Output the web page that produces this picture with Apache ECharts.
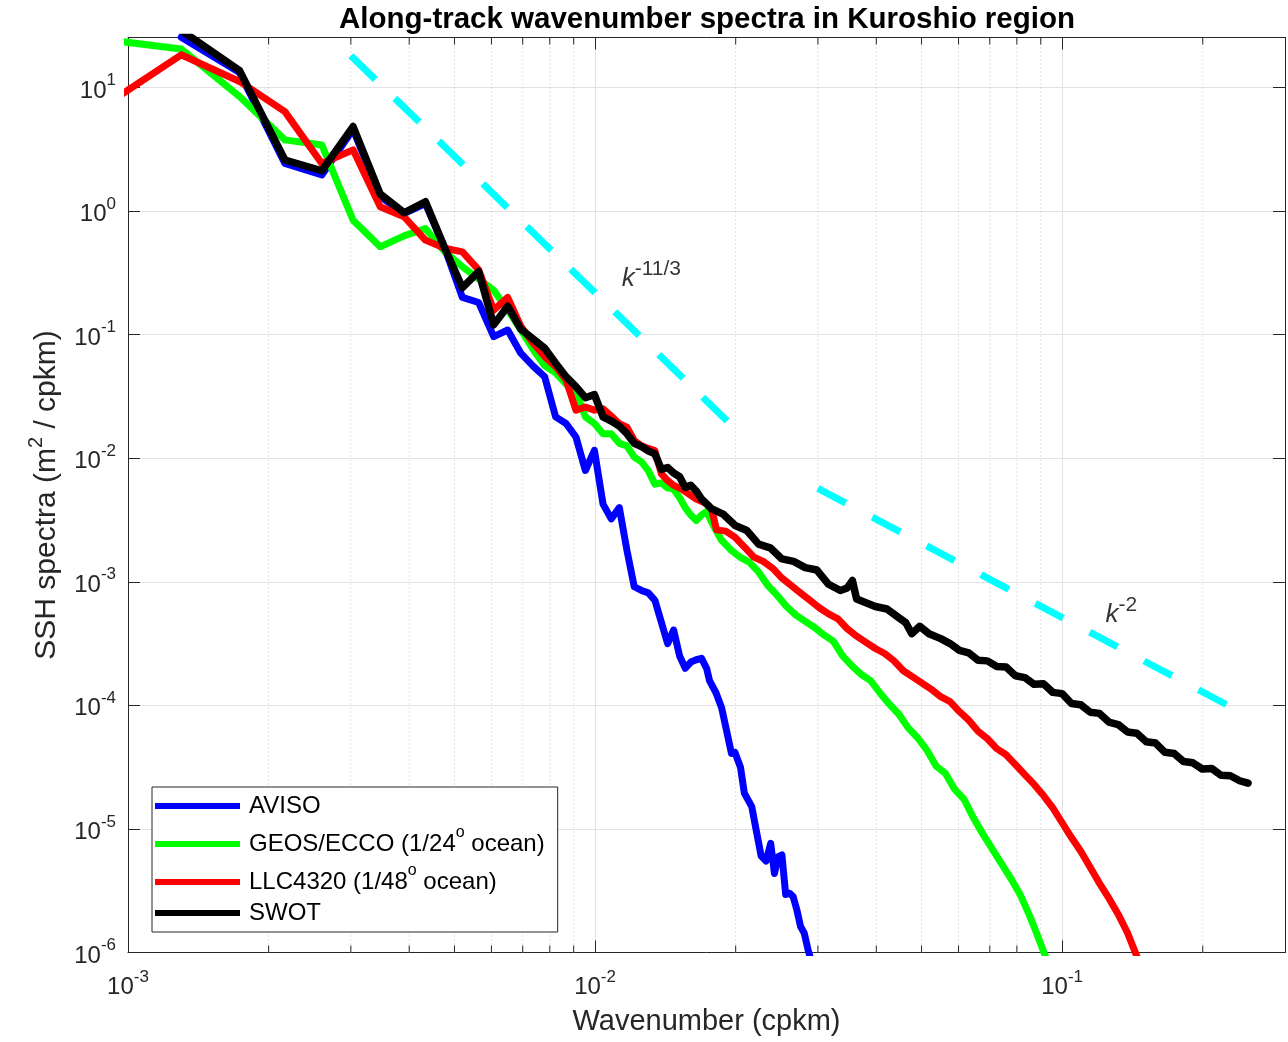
<!DOCTYPE html>
<html><head><meta charset="utf-8">
<script src="https://cdn.jsdelivr.net/npm/echarts@6/dist/echarts.min.js"></script>
<style>html,body{margin:0;padding:0;background:#fff}#c{width:1288px;height:1042px}</style>
</head><body><div id="c"></div>
<script>
const FONT = '"Liberation Sans", Arial, Helvetica, sans-serif';
const X_MIN = 0.001, X_MAX = 0.3, Y_MIN = 1e-6, Y_MAX = 25.4;

// ---- data ----
const avisoK = [0.0013,0.001733,0.002167,0.0026,0.003033,0.003467,0.0039,0.004333,0.004767,0.0052,0.005633,0.006067,0.0065,0.006933,0.007367,0.0078,0.008233,0.008667,0.0091,0.009533,0.009967,0.0104,0.01083,0.01127,0.0117,0.01213,0.01257,0.013,0.01343,0.01387,0.0143,0.01473,0.01517,0.0156,0.01603,0.01647,0.0169,0.01733,
  0.01758,0.01816,0.01866,0.01916,0.01959,0.01992,0.02048,0.02087,0.02165,0.02205,0.02268,0.02323,0.02377,0.02421,0.02466,0.02512,0.02559,0.02606,0.02655,0.02704,0.02754,0.02805,0.02858,0.02884];
const avisoS = [25.5,13.2,2.43,1.96,4.57,1.31,0.957,1.15,0.50,0.20,0.182,0.0964,0.109,0.0708,0.0557,0.0456,0.0216,0.0191,0.01486,0.00796,0.01159,0.00425,0.00323,0.00398,0.0018,0.000912,0.000851,0.000813,0.000708,0.000468,0.000316,0.000407,0.000251,0.0001995,0.000224,0.000234,0.00024,0.0001995,
  1.585e-4,1.259e-4,9.55e-5,6.026e-5,4.074e-5,4.169e-5,3.162e-5,1.95e-5,1.514e-5,1.047e-5,6.026e-6,5.495e-6,7.638e-6,4.365e-6,5.957e-6,6.152e-6,2.951e-6,3.02e-6,2.831e-6,2.213e-6,1.622e-6,1.432e-6,1.047e-6,9.33e-7];

const geosK = [0.000867,0.0013,0.001733,0.002167,0.0026,0.003033,0.003467,0.0039,0.004333,0.004767,0.0052,0.005633,0.006067,0.0065,0.006933,0.007367,0.0078,0.008233,0.008667,0.0091,0.009533,0.009967,0.0104,0.01083,0.01127,0.0117,0.01213,0.01257,0.013,0.01343,0.01387,0.0143,0.01473,0.01517,0.0156,0.01603,0.01647,0.0169,0.01733,
  0.01778,0.01862,0.0195,0.02042,0.02138,0.02239,0.02344,0.02455,0.0257,0.02692,0.02818,0.02951,0.0309,0.03236,0.03388,0.03548,0.03715,0.0389,0.04074,0.04266,0.04467,0.04677,0.04898,0.05129,0.0537,0.05623,0.05888,0.06166,0.06457,0.06761,0.07079,0.07413,0.07762,0.08128,0.08511,0.0881,0.0912,0.09226];
const geosS = [24.8,20.5,8.45,3.77,3.43,0.845,0.514,0.63,0.723,0.468,0.355,0.282,0.229,0.158,0.11,0.0759,0.0562,0.049,0.0398,0.0347,0.0216,0.0191,0.0158,0.0158,0.0132,0.0126,0.0102,0.00933,0.00794,0.00617,0.00631,0.00575,0.00562,0.00479,0.00398,0.00347,0.00313,0.00347,0.00372,
  3.02e-3,2.188e-3,1.82e-3,1.585e-3,1.445e-3,1.202e-3,9.333e-4,7.762e-4,6.31e-4,5.37e-4,4.786e-4,4.266e-4,3.715e-4,3.311e-4,2.512e-4,2.089e-4,1.778e-4,1.585e-4,1.259e-4,1.023e-4,8.511e-5,6.607e-5,5.495e-5,4.365e-5,3.236e-5,2.818e-5,2.089e-5,1.738e-5,1.23e-5,9.12e-6,6.918e-6,5.248e-6,3.981e-6,2.951e-6,1.995e-6,1.445e-6,1.023e-6,9.12e-7];

const llcK = [0.000867,0.0013,0.001733,0.002167,0.0026,0.003033,0.003467,0.0039,0.004333,0.004767,0.0052,0.005633,0.006067,0.0065,0.006933,0.007367,0.0078,0.008233,0.008667,0.0091,0.009533,0.009967,0.0104,0.01083,0.01127,0.0117,0.01213,0.01257,0.013,0.01343,0.01387,0.0143,0.01473,0.01517,0.0156,0.01603,0.01647,0.0169,0.01733,
  0.01778,0.0182,0.01905,0.01995,0.02089,0.02188,0.02291,0.02399,0.02512,0.0263,0.02754,0.02884,0.0302,0.03162,0.03311,0.03467,0.03631,0.03802,0.03981,0.04169,0.04365,0.04571,0.04786,0.05012,0.05248,0.05495,0.05754,0.06026,0.0631,0.06607,0.06918,0.07244,0.07586,0.07943,0.08318,0.0871,0.0912,0.0955,0.1,0.1047,0.1096,0.1148,0.1202,0.1259,0.1318,0.138,0.1445];
const llcS = [6.67,18.4,11.2,6.38,2.43,3.13,1.084,0.90,0.582,0.50,0.468,0.335,0.158,0.20,0.117,0.0855,0.0665,0.0552,0.043,0.0245,0.026,0.0245,0.0251,0.0219,0.019,0.0178,0.0139,0.0126,0.012,0.01153,0.00746,0.0066,0.00603,0.00575,0.00537,0.00501,0.00468,0.00447,0.00428,
  3.802e-3,2.63e-3,2.57e-3,2.291e-3,1.905e-3,1.585e-3,1.462e-3,1.288e-3,1.072e-3,9.333e-4,8.128e-4,7.079e-4,6.166e-4,5.495e-4,5.012e-4,4.169e-4,3.631e-4,3.236e-4,2.884e-4,2.63e-4,2.291e-4,1.905e-4,1.698e-4,1.514e-4,1.349e-4,1.175e-4,1.072e-4,8.913e-5,7.586e-5,6.166e-5,5.37e-5,4.467e-5,3.981e-5,3.311e-5,2.754e-5,2.291e-5,1.862e-5,1.479e-5,1.122e-5,8.511e-6,6.607e-6,4.898e-6,3.631e-6,2.754e-6,2.042e-6,1.445e-6,9.33e-7];

const swotK = [0.0013,0.001733,0.002167,0.0026,0.003033,0.003467,0.0039,0.004333,0.004767,0.0052,0.005633,0.006067,0.0065,0.006933,0.007367,0.0078,0.008233,0.008667,0.0091,0.009533,0.009967,0.0104,0.01083,0.01127,0.0117,0.01213,0.01257,0.013,0.01343,0.01387,0.0143,0.01473,0.01517,0.0156,0.01603,0.01647,0.0169,
  0.01778,0.01884,0.01995,0.02113,0.02239,0.02371,0.02512,0.02661,0.02818,0.02985,0.03162,0.0335,0.03467,0.03556,0.03631,0.03802,0.03981,0.04217,0.04467,0.04624,0.04764,0.04955,0.05188,0.05495,0.05754,0.06026,0.0631,0.06607,0.06918,0.07244,0.07586,0.07943,0.08318,0.0871,0.0912,0.0955,0.1,0.1047,0.1096,0.1148,0.1202,0.1259,0.1318,0.138,0.1445,0.1514,0.1585,0.166,0.1738,0.182,0.1905,0.1995,0.2089,0.2188,0.2291,0.2399,0.25];
const swotS = [29,13.7,2.59,2.12,4.83,1.374,0.969,1.19,0.50,0.24,0.324,0.12,0.17,0.111,0.0923,0.0776,0.0587,0.0457,0.038,0.0309,0.0327,0.0216,0.020,0.0182,0.0158,0.0132,0.01245,0.01148,0.01084,0.00813,0.00841,0.00759,0.00708,0.00581,0.00603,0.00543,0.00468,
  3.89e-3,3.508e-3,2.851e-3,2.6e-3,2.018e-3,1.884e-3,1.531e-3,1.462e-3,1.303e-3,1.245e-3,9.55e-4,8.511e-4,8.913e-4,1.023e-3,7.244e-4,6.761e-4,6.31e-4,6.026e-4,5.129e-4,4.677e-4,3.802e-4,4.365e-4,3.802e-4,3.467e-4,3.162e-4,2.786e-4,2.661e-4,2.317e-4,2.291e-4,2.065e-4,2.042e-4,1.738e-4,1.679e-4,1.479e-4,1.496e-4,1.274e-4,1.245e-4,1.035e-4,1.012e-4,8.81e-5,8.61e-5,7.328e-5,6.998e-5,6.095e-5,5.957e-5,5.07e-5,4.955e-5,4.169e-5,4.074e-5,3.508e-5,3.428e-5,3.055e-5,3.09e-5,2.723e-5,2.692e-5,2.455e-5,2.344e-5];

// reference slopes
const k113K = [0.003, 0.01929];
const k113S = [18.1, 0.0196];
const k2K = [0.03, 0.225];
const k2S = [5.70e-3, 1.013e-4];

// annotation anchors (data coordinates)
const lab113 = [0.01143, 0.2979];
const lab2 = [0.1242, 5.74e-4];

// minor x tick values
const xMinor = [0.002,0.003,0.004,0.005,0.006,0.007,0.008,0.009,0.02,0.03,0.04,0.05,0.06,0.07,0.08,0.09,0.2];

const seriesNames = ['AVISO', 'GEOS/ECCO (1/24o ocean)', 'LLC4320 (1/48o ocean)', 'SWOT'];
const legendRich = ['{a|AVISO}', '{a|GEOS/ECCO (1/24}{s|o}{g| ocean)}', '{a|LLC4320 (1/48}{s|o}{g| ocean)}', '{a|SWOT}'];
const legendRowHeights = [38, 38, 38, 22];
const seriesColors = ['#0000ff', '#00ff00', '#ff0000', '#000000'];

function pairs(k, s) { return k.map((v, i) => [v, s[i]]); }
function powLabel(v) {
  const e = Math.log10(v); const r = Math.round(e);
  if (Math.abs(e - r) > 1e-6) return '';
  return '{b|10}{s|' + r + '}';
}
const tickRich = {
  b: { fontSize: 24, fontFamily: FONT, color: '#262626', padding: [7, 0, 0, 0] },
  s: { fontSize: 17, fontFamily: FONT, color: '#262626', verticalAlign: 'top', lineHeight: 17 }
};
const axisCommon = {
  type: 'log', logBase: 10,
  axisLine: { show: true, onZero: false, lineStyle: { color: '#262626', width: 1 } },
  axisTick: { show: true, inside: true, length: 12, lineStyle: { color: '#262626', width: 1 } },
  minorTick: { show: false },
};

const chart = echarts.init(document.getElementById('c'), null, { renderer: 'canvas' });

const lineSeries = [avisoK, geosK, llcK, swotK].map((k, i) => ({
  type: 'line', name: seriesNames[i],
  data: pairs(k, [avisoS, geosS, llcS, swotS][i]),
  xAxisIndex: 0, yAxisIndex: 0,
  symbol: 'none', showSymbol: false, smooth: false,
  lineStyle: { color: seriesColors[i], width: i === 3 ? 7.5 : 7, cap: 'round', join: 'round' },
  itemStyle: { color: seriesColors[i] },
  z: 3 + i, animation: false, silent: true
}));

const legendText = { fontFamily: FONT, fontSize: 24, color: '#000' };
const option = {
  animation: false,
  backgroundColor: '#ffffff',
  grid: { left: 128, right: 2, top: 37.5, bottom: 89.5, containLabel: false },
  graphic: [{
    type: 'text', x: 707, y: 20, silent: true,
    style: { text: 'Along-track wavenumber spectra in Kuroshio region', font: 'bold 29.5px ' + FONT,
      fill: '#000', align: 'center', verticalAlign: 'middle', textAlign: 'center', textVerticalAlign: 'middle' }
  }],
  legend: {
    data: seriesNames.map((n, i) => ({ name: n, textStyle: { lineHeight: legendRowHeights[i] } })),
    orient: 'vertical', left: 152, top: 787,
    padding: [0, 13, 7, 3], itemGap: 0, itemWidth: 85, itemHeight: 6, icon: 'rect',
    backgroundColor: '#ffffff', borderColor: '#262626', borderWidth: 1, borderRadius: 0,
    selectedMode: false, align: 'left',
    formatter: name => legendRich[seriesNames.indexOf(name)],
    textStyle: Object.assign({}, legendText, {
      rich: {
        a: Object.assign({}, legendText, { padding: [0, 0, 0, 4] }),
        g: Object.assign({}, legendText),
        s: { fontFamily: FONT, fontSize: 16, color: '#000', lineHeight: 22, verticalAlign: 'top' }
      }
    })
  },
  xAxis: [
    Object.assign({}, axisCommon, {
      position: 'bottom', min: X_MIN, max: X_MAX,
      axisLabel: { show: true, formatter: powLabel, rich: tickRich, margin: 16 },
      splitLine: { show: true, lineStyle: { color: '#e2e2e2', width: 1 } },
      name: 'Wavenumber (cpkm)', nameLocation: 'middle', nameGap: 55,
      nameTextStyle: { fontFamily: FONT, fontSize: 29, color: '#262626' }
    }),
    Object.assign({}, axisCommon, {
      position: 'top', min: X_MIN, max: X_MAX,
      axisLabel: { show: false }, splitLine: { show: false }
    })
  ],
  yAxis: [
    Object.assign({}, axisCommon, {
      position: 'left', min: Y_MIN, max: Y_MAX,
      axisLabel: { show: true, formatter: powLabel, rich: tickRich, margin: 12 },
      splitLine: { show: true, lineStyle: { color: '#e2e2e2', width: 1 } },
      name: '{n|SSH spectra (m}{s|2}{n| / cpkm)}', nameLocation: 'middle', nameGap: 66, nameRotate: 90,
      nameTextStyle: { fontFamily: FONT, fontSize: 30, color: '#262626',
        rich: {
          n: { fontFamily: FONT, fontSize: 30, color: '#262626', padding: [6, 0, 0, 0] },
          s: { fontFamily: FONT, fontSize: 20, color: '#262626', verticalAlign: 'top', lineHeight: 20 }
        } }
    }),
    Object.assign({}, axisCommon, {
      position: 'right', min: Y_MIN, max: Y_MAX,
      axisLabel: { show: false }, splitLine: { show: false }
    })
  ],
  series: [
    {
      type: 'custom', name: 'minor', xAxisIndex: 0, yAxisIndex: 0, silent: true, clip: false, z: 1,
      data: xMinor.map(v => [v, Y_MIN]),
      renderItem: (params, api) => {
        const x = api.value(0);
        const p0 = api.coord([x, Y_MIN]);
        const p1 = api.coord([x, Y_MAX]);
        return { type: 'group', children: [
          { type: 'line', shape: { x1: p0[0], y1: p0[1], x2: p1[0], y2: p1[1] },
            style: { stroke: '#c4c4c4', lineWidth: 1, lineDash: [1, 3] } },
          { type: 'line', shape: { x1: p0[0], y1: p0[1], x2: p0[0], y2: p0[1] - 7 },
            style: { stroke: '#262626', lineWidth: 1 } },
          { type: 'line', shape: { x1: p1[0], y1: p1[1], x2: p1[0], y2: p1[1] + 7 },
            style: { stroke: '#262626', lineWidth: 1 } }
        ] };
      }
    },
    {
      type: 'line', name: 'k113', data: pairs(k113K, k113S), symbol: 'none', silent: true, z: 2,
      lineStyle: { color: '#00ffff', width: 7, type: [34, 27.3], cap: 'butt' }
    },
    {
      type: 'line', name: 'k2', data: pairs(k2K, k2S), symbol: 'none', silent: true, z: 2,
      lineStyle: { color: '#00ffff', width: 7, type: [31.5, 30], cap: 'butt' }
    },
    ...lineSeries,
    {
      type: 'scatter', name: 'lab', silent: true, z: 10,
      data: [lab113, lab2], symbolSize: 1, itemStyle: { color: 'rgba(0,0,0,0)' },
      label: {
        show: true, position: [0, 0], align: 'left', verticalAlign: 'middle',
        formatter: p => p.dataIndex === 0 ? '{k|k}{s|-11/3}' : '{k|k}{s|-2}',
        rich: {
          k: { fontFamily: FONT, fontSize: 26, fontStyle: 'italic', color: '#000', padding: [7, 0, 0, 0] },
          s: { fontFamily: FONT, fontSize: 21, color: '#000', verticalAlign: 'top', lineHeight: 21 }
        }
      }
    }
  ]
};
chart.setOption(option);
</script></body></html>
